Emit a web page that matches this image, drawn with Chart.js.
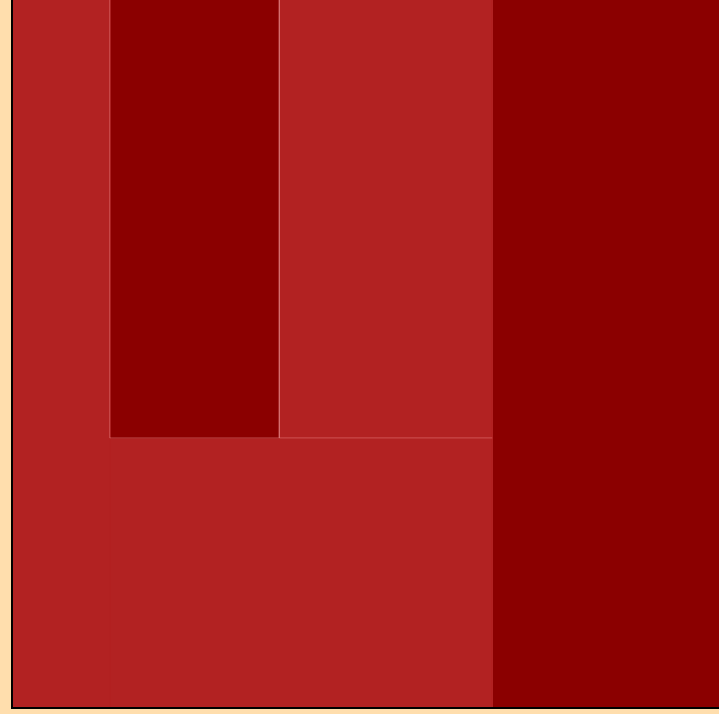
<!DOCTYPE html>
<html>
<head>
<meta charset="utf-8">
<script src="https://cdn.jsdelivr.net/npm/chart.js@4.4.1/dist/chart.umd.min.js"></script>
<style>
  html, body { margin: 0; padding: 0; background: #FFDEAD; }
  #wrap { width: 719px; height: 714px; position: relative; }
</style>
</head>
<body>
<div id="wrap"><canvas id="c" width="719" height="714"></canvas></div>
<script>
// Leaf cells of the treemap and their values
const cellNames  = ['A', 'B', 'C', 'D', 'E'];
const cellValues = [69, 74, 93, 103, 160];
// Hierarchy: nested groups of leaf indices (structure of the treemap)
const groupTree = { split: 'x', children: [ { split: 'x', children: [0, { split: 'y', children: [ { split: 'x', children: [1, 2] }, 3 ] } ] }, 4 ] };

// Styles (kept apart from data)
const RED = '#B22222', DARK = '#8B0000';
const LINE = 'rgba(255,170,170,0.38)';
const cellFill  = { A: RED, B: DARK, C: RED, D: RED, E: DARK };
// visible outline sides: top, right, bottom, left
const cellSides = { A: [0,0,0,0], B: [0,1,1,1], C: [0,0,1,0], D: [0,0,0,0], E: [0,0,0,0] };

function sumNode(n) {
  return typeof n === 'number' ? cellValues[n] : n.children.reduce((s, c) => s + sumNode(c), 0);
}
const rects = {};
function layout(n, x0, y0, x1, y1) {
  if (typeof n === 'number') { rects[n] = { x0, y0, x1, y1 }; return; }
  const total = sumNode(n);
  let pos = n.split === 'x' ? x0 : y0;
  const span = n.split === 'x' ? (x1 - x0) : (y1 - y0);
  n.children.forEach(c => {
    const len = span * sumNode(c) / total;
    if (n.split === 'x') layout(c, pos, y0, pos + len, y1);
    else layout(c, x0, pos, x1, pos + len);
    pos += len;
  });
}
layout(groupTree, 0, 0, 1, 1);

const datasets = [];
cellNames.forEach((name, i) => {
  const r = rects[i];
  const pts = [
    { x: r.x0, y: r.y0 }, { x: r.x1, y: r.y0 },
    { x: r.x1, y: r.y1 }, { x: r.x0, y: r.y1 }, { x: r.x0, y: r.y0 }
  ];
  datasets.push({
    label: name,
    data: pts,
    showLine: true,
    fill: 'shape',
    backgroundColor: cellFill[name],
    borderColor: cellFill[name],
    borderWidth: 1,
    pointRadius: 0,
    pointHoverRadius: 0,
    tension: 0,
    order: 2
  });
  cellSides[name].forEach((on, s) => {
    if (!on) return;
    datasets.push({
      label: name + ' edge',
      data: [pts[s], pts[s + 1]],
      showLine: true,
      fill: false,
      borderColor: LINE,
      borderWidth: 1,
      pointRadius: 0,
      pointHoverRadius: 0,
      order: 0
    });
  });
});

new Chart(document.getElementById('c'), {
  type: 'scatter',
  data: { datasets },
  options: {
    responsive: false,
    animation: false,
    events: [],
    layout: { padding: { left: 12, right: 0, top: 0, bottom: 6 } },
    plugins: { legend: { display: false }, tooltip: { enabled: false } },
    scales: {
      x: { type: 'linear', min: 0, max: 1, ticks: { display: false }, grid: { display: false, drawTicks: false },
           border: { display: true, color: '#000', width: 2, z: 1 } },
      y: { type: 'linear', min: 0, max: 1, reverse: true, ticks: { display: false }, grid: { display: false, drawTicks: false },
           border: { display: true, color: '#000', width: 2, z: 1 } }
    }
  }
});
</script>
</body>
</html>
